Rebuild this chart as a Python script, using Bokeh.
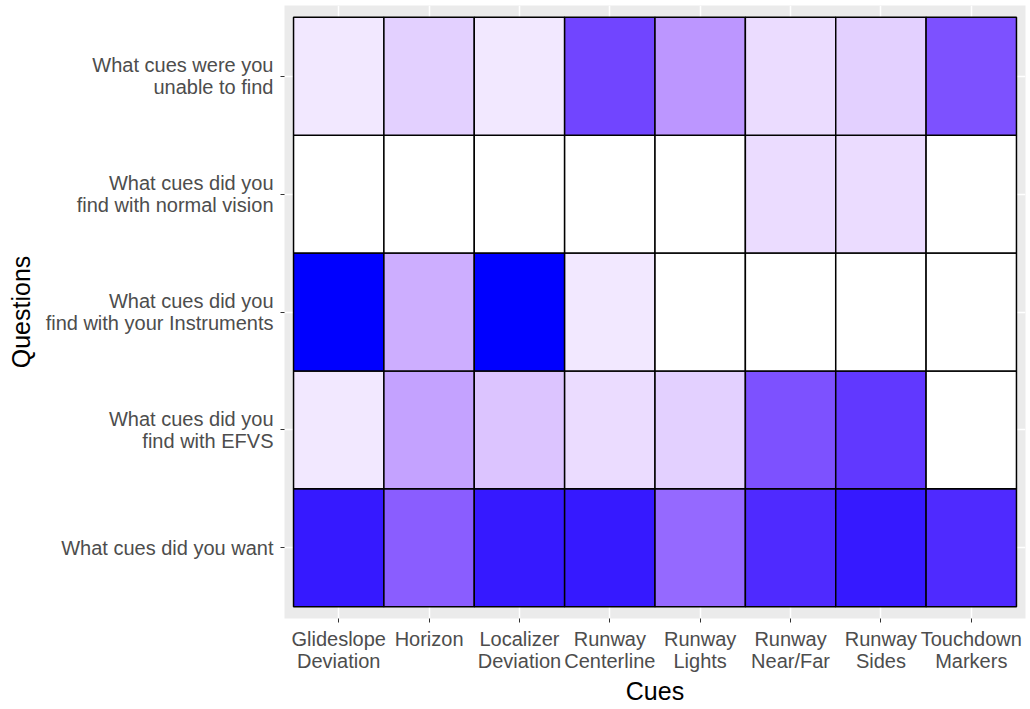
import numpy as np
from bokeh.plotting import figure
from bokeh.models import ColumnDataSource, FactorRange, LinearColorMapper
from bokeh.transform import transform
from bokeh.embed import file_html
from bokeh.resources import INLINE

# ---- data ----
cues = ["Glideslope\nDeviation", "Horizon", "Localizer\nDeviation", "Runway\nCenterline",
        "Runway\nLights", "Runway\nNear/Far", "Runway\nSides", "Touchdown\nMarkers"]
questions = ["What cues did you want",
             "What cues did you\nfind with EFVS",
             "What cues did you\nfind with your Instruments",
             "What cues did you\nfind with normal vision",
             "What cues were you\nunable to find"]
want = [19, 14, 19, 19, 13, 18, 19, 18]
efvs = [2, 8, 5, 3, 4, 15, 17, 0]
instruments = [20, 7, 20, 2, 0, 0, 0, 0]
normal_vision = [0, 0, 0, 0, 0, 3, 3, 0]
unable = [2, 4, 2, 16, 9, 3, 4, 15]
rows = [want, efvs, instruments, normal_vision, unable]

# ---- white -> blue gradient interpolated in CIELAB (like ggplot2) ----
def srgb_to_lin(c):
    c = c / 255.0
    return np.where(c <= 0.04045, c / 12.92, ((c + 0.055) / 1.055) ** 2.4)

def lin_to_srgb(c):
    c = np.clip(c, 0, 1)
    v = np.where(c <= 0.0031308, 12.92 * c, 1.055 * c ** (1 / 2.4) - 0.055)
    return np.clip(np.round(v * 255), 0, 255).astype(int)

M = np.array([[0.4124, 0.3576, 0.1805], [0.2126, 0.7152, 0.0722], [0.0193, 0.1192, 0.9505]])
Minv = np.linalg.inv(M)
WP = np.array([0.95047, 1.0, 1.08883])

def f(t):
    return np.where(t > (6 / 29) ** 3, np.cbrt(t), t / (3 * (6 / 29) ** 2) + 4 / 29)

def finv(t):
    return np.where(t > 6 / 29, t ** 3, 3 * (6 / 29) ** 2 * (t - 4 / 29))

def rgb_to_lab(rgb):
    xyz = M @ srgb_to_lin(np.array(rgb, float)) / WP
    fx, fy, fz = f(xyz)
    return np.array([116 * fy - 16, 500 * (fx - fy), 200 * (fy - fz)])

def lab_to_hex(lab):
    L, a, b = lab
    fy = (L + 16) / 116
    fx = fy + a / 500
    fz = fy - b / 200
    xyz = np.array([finv(fx), finv(fy), finv(fz)]) * WP
    rgb = lin_to_srgb(Minv @ xyz)
    return "#%02x%02x%02x" % tuple(rgb)

lo, hi = rgb_to_lab([255, 255, 255]), rgb_to_lab([0, 0, 255])
palette = [lab_to_hex(lo + (hi - lo) * t) for t in np.linspace(0, 1, 256)]

xs, ys, vs = [], [], []
for q, r in zip(questions, rows):
    for c, v in zip(cues, r):
        xs.append(c)
        ys.append(q)
        vs.append(v)
src = ColumnDataSource(dict(x=xs, y=ys, v=vs))
mapper = LinearColorMapper(palette=palette, low=min(vs), high=max(vs))

p = figure(width=1028, height=707, output_backend="svg", toolbar_location=None,
           x_range=FactorRange(factors=cues, range_padding=0.1, range_padding_units="absolute"),
           y_range=FactorRange(factors=questions, range_padding=0.1, range_padding_units="absolute"),
           min_border_left=284, min_border_right=3, min_border_top=5, min_border_bottom=86,
           background_fill_color="#EBEBEB", border_fill_color="white")
p.outline_line_color = None

p.rect(x="x", y="y", width=1, height=1, source=src,
       fill_color=transform("v", mapper), line_color="black", line_width=1.5)

for ax in (p.xaxis[0], p.yaxis[0]):
    ax.axis_line_color = None
    ax.major_tick_line_color = "#333333"
    ax.major_tick_out = 4
    ax.major_tick_in = 0
    ax.minor_tick_line_color = None
    ax.major_label_text_color = "#4D4D4D"
    ax.major_label_text_font = "Liberation Sans"
    ax.major_label_text_font_size = "20px"
    ax.major_label_text_line_height = 1.0
    ax.axis_label_text_font = "Liberation Sans"
    ax.axis_label_text_font_size = "25px"
    ax.axis_label_text_font_style = "normal"
    ax.axis_label_text_color = "black"

p.xaxis.axis_label = "Cues"
p.yaxis.axis_label = "Questions"
p.xaxis.major_label_standoff = 5
p.yaxis.major_label_standoff = 7
p.xaxis.axis_label_standoff = 2
p.yaxis.axis_label_standoff = 8

p.grid.grid_line_color = "white"
p.grid.grid_line_width = 1.5

open("out.html", "w").write(file_html(p, INLINE))
